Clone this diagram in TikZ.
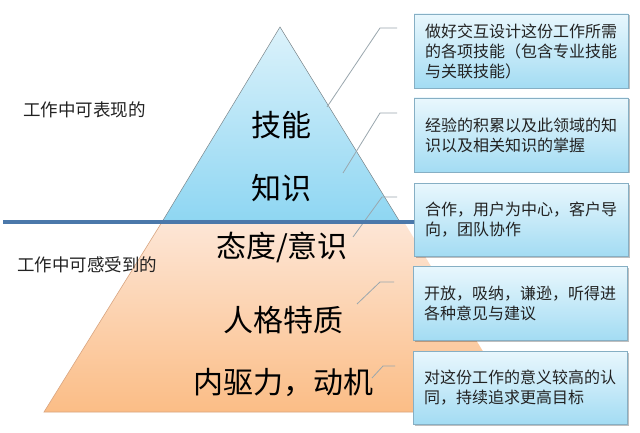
\documentclass[tikz,border=0pt]{standalone}
\usepackage{fontspec}
\newfontfamily\cjk{Noto Sans CJK SC}
\usetikzlibrary{shadows}
\definecolor{boxtop}{HTML}{E9F7FD}
\definecolor{boxbot}{HTML}{A3DCF3}
\definecolor{boxedge}{HTML}{86AFC4}
\definecolor{tritop}{HTML}{DCF2FB}
\definecolor{tribot}{HTML}{8ED6F2}
\definecolor{ortop}{HTML}{FDE6D6}
\definecolor{orbot}{HTML}{FBBD86}
\definecolor{oredge}{HTML}{D9A580}
\definecolor{divline}{HTML}{4B78AA}
\definecolor{conn}{HTML}{9AA7AE}
\definecolor{labeltext}{HTML}{222222}
\tikzset{
  infobox/.style={draw=boxedge, line width=0.8pt, top color=boxtop, bottom color=boxbot,
    minimum width=214pt, inner sep=0pt, align=left, text=labeltext,
    font=\cjk\fontsize{16}{20}\selectfont,
    drop shadow={shadow xshift=1.5pt, shadow yshift=-1.5pt, fill=black, opacity=0.25}},
  levellabel/.style={font=\cjk\fontsize{30}{34}\selectfont, text=black, inner sep=0pt},
  sidelabel/.style={font=\cjk\fontsize{17.5}{20}\selectfont, text=labeltext, inner sep=0pt, anchor=west},
  connector/.style={draw=conn, line width=0.8pt}
}
\begin{document}
\begin{tikzpicture}[x=1pt,y=-1pt]
\useasboundingbox (0,0) rectangle (640,433);
\fill[white] (0,0) rectangle (640,433);

% pyramid corners
\coordinate (apex) at (280,27);
\coordinate (tl) at (162,222);
\coordinate (tr) at (400,222);
\coordinate (otl) at (162,222);
\coordinate (otr) at (404,222);
\coordinate (obr) at (520,412);
\coordinate (obl) at (44,412);

% lower trapezoid
\shade[top color=ortop, bottom color=orbot] (otl) -- (otr) -- (obr) -- (obl) -- cycle;
\draw[oredge, line width=0.6pt] (otl) -- (obl) -- (obr);
% upper triangle
\shade[top color=tritop, bottom color=tribot] (apex) -- (tr) -- (tl) -- cycle;
\draw[conn!80!black, line width=0.5pt] (tl) -- (apex) -- (tr);

% connectors
\coordinate (c1s) at (327,107); \coordinate (c1b) at (380,28);  \coordinate (c1e) at (397,28);
\coordinate (c2s) at (343,173); \coordinate (c2b) at (380,113); \coordinate (c2e) at (397,113);
\coordinate (c3s) at (353,237); \coordinate (c3b) at (382,197); \coordinate (c3e) at (397,197);
\coordinate (c4s) at (357,304); \coordinate (c4b) at (380,282); \coordinate (c4e) at (394,282);
\coordinate (c5s) at (372,378); \coordinate (c5b) at (383,366); \coordinate (c5e) at (395,366);
\draw[connector] (c1s) -- (c1b) -- (c1e);
\draw[connector] (c2s) -- (c2b) -- (c2e);
\draw[connector] (c3s) -- (c3b) -- (c3e);
\draw[connector] (c4s) -- (c4b) -- (c4e);
\draw[connector] (c5s) -- (c5b) -- (c5e);

% divider line
\coordinate (ls) at (3,222);
\coordinate (le) at (416,222);
\draw[divline, line width=4pt] (ls) -- (le);

% level labels
\node[levellabel] (skill) at (281,125) {技能};
\node[levellabel] (know) at (281,188) {知识};
\node[levellabel] (att) at (282,247) {态度/意识};
\node[levellabel] (pers) at (283,320) {人格特质};
\node[levellabel] (drive) at (283,383) {内驱力，动机};

% side labels
\node[sidelabel] (shown) at (23,110) {工作中可表现的};
\node[sidelabel] (felt) at (17,265) {工作中可感受到的};

% info boxes
\node[infobox, minimum height=74pt] (b1) at (521,51) {做好交互设计这份工作所需\\的各项技能（包含专业技能\\与关联技能）};
\node[infobox, minimum height=74pt] (b2) at (521,135) {经验的积累以及此领域的知\\识以及相关知识的掌握};
\node[infobox, minimum height=73pt] (b3) at (521,219.5) {合作，用户为中心，客户导\\向，团队协作};
\node[infobox, minimum height=74pt] (b4) at (520,303) {开放，吸纳，谦逊，听得进\\各种意见与建议};
\node[infobox, minimum height=73pt] (b5) at (520,387.5) {对这份工作的意义较高的认\\同，持续追求更高目标};
\end{tikzpicture}
\end{document}
